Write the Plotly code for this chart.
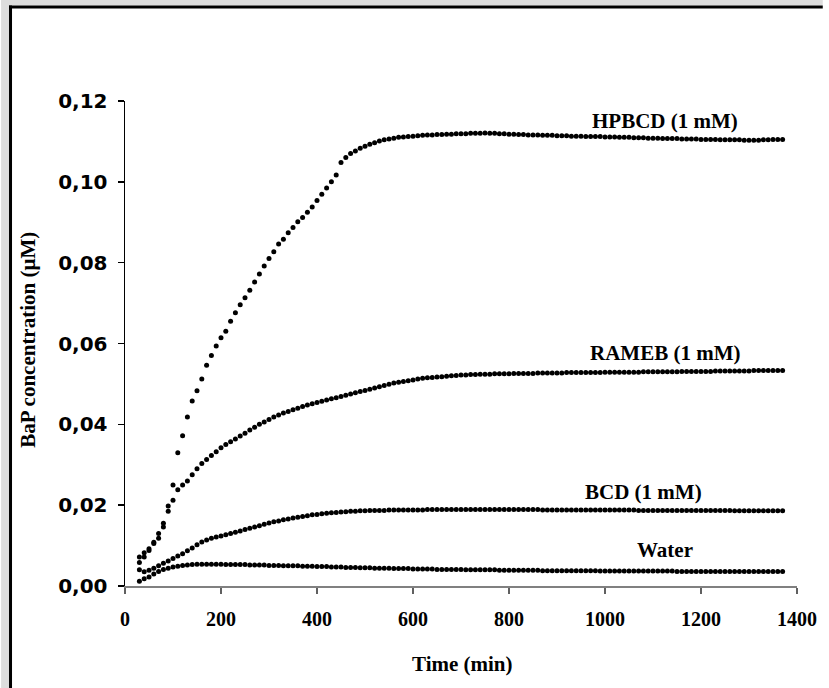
import plotly.graph_objects as go

# Sampling times (min), every 10 min from 30 to 1370
times = list(range(30, 1380, 10))

hpbcd = [
    .0072, .0082, .0092, .0105, .0118, .0146, .0198, .0250, .0330, .0372,
    .0418, .0458, .0483, .0512, .0546, .0570, .0594, .0614, .0630, .0655,
    .0676, .0696, .0713, .0732, .0752, .0772, .0792, .0810, .0827, .0846,
    .0858, .0874, .0887, .0901, .0912, .0925, .0938, .0954, .0969, .0985,
    .1000, .1017, .1048, .1060, .1070, .1076, .1083, .1088, .1093, .1097,
    .1101, .1104, .1106, .1108, .1110, .1111, .1112, .1113, .1114, .1115,
    .1116, .1116, .1117, .1117, .1118, .1118, .1119, .1119, .1119, .1120,
    .1120, .1120, .1121, .1120, .1120, .1119, .1119, .1118, .1118, .1117,
    .1117, .1116, .1116, .1116, .1115, .1115, .1115, .1114, .1114, .1114,
    .1113, .1113, .1113, .1112, .1112, .1112, .1112, .1111, .1111, .1111,
    .1110, .1110, .1110, .1109, .1109, .1109, .1108, .1108, .1108, .1107,
    .1107, .1107, .1107, .1106, .1106, .1106, .1106, .1105, .1105, .1105,
    .1105, .1104, .1104, .1104, .1104, .1104, .1103, .1103, .1103, .1103,
    .1104, .1104, .1105, .1105, .1105,
]

rameb = [
    .0058, .0072, .0088, .0108, .0130, .0155, .0185, .0212, .0238, .0250,
    .0260, .0275, .0290, .0303, .0313, .0323, .0332, .0342, .0350, .0357,
    .0364, .0371, .0378, .0386, .0393, .0400, .0406, .0412, .0418, .0423,
    .0428, .0432, .0436, .0440, .0444, .0448, .0451, .0454, .0457, .0460,
    .0463, .0466, .0469, .0472, .0475, .0478, .0481, .0484, .0487, .0490,
    .0493, .0496, .0499, .0502, .0504, .0506, .0508, .0510, .0512, .0514,
    .0515, .0516, .0517, .0518, .0519, .0520, .0521, .0522, .0522, .0523,
    .0523, .0524, .0524, .0524, .0525, .0525, .0525, .0525, .0526, .0526,
    .0526, .0526, .0526, .0527, .0527, .0527, .0527, .0527, .0527, .0528,
    .0528, .0528, .0528, .0528, .0528, .0528, .0528, .0529, .0529, .0529,
    .0529, .0529, .0529, .0529, .0529, .0530, .0530, .0530, .0530, .0530,
    .0530, .0530, .0530, .0531, .0531, .0531, .0531, .0531, .0531, .0531,
    .0532, .0532, .0532, .0532, .0532, .0532, .0532, .0532, .0533, .0533,
    .0533, .0533, .0533, .0533, .0533,
]

bcd = [
    .0040, .0035, .0039, .0044, .0050, .0056, .0062, .0068, .0074, .0080,
    .0087, .0094, .0102, .0109, .0114, .0118, .0121, .0124, .0127, .0130,
    .0133, .0136, .0140, .0143, .0146, .0149, .0153, .0156, .0159, .0161,
    .0164, .0166, .0168, .0170, .0172, .0174, .0176, .0177, .0179, .0180,
    .0181, .0182, .0183, .0184, .0185, .0185, .0186, .0186, .0187, .0187,
    .0187, .0187, .0188, .0188, .0188, .0188, .0188, .0188, .0188, .0188,
    .0189, .0189, .0189, .0189, .0189, .0189, .0189, .0189, .0189, .0189,
    .0189, .0189, .0189, .0189, .0189, .0189, .0189, .0189, .0189, .0189,
    .0189, .0189, .0189, .0189, .0188, .0188, .0188, .0188, .0188, .0188,
    .0188, .0188, .0188, .0188, .0188, .0188, .0188, .0188, .0188, .0188,
    .0188, .0188, .0188, .0188, .0187, .0187, .0187, .0187, .0187, .0187,
    .0187, .0187, .0187, .0187, .0187, .0187, .0187, .0187, .0187, .0187,
    .0187, .0187, .0187, .0187, .0186, .0186, .0186, .0186, .0186, .0186,
    .0186, .0186, .0186, .0186, .0186,
]

water = [
    .0012, .0018, .0022, .0030, .0036, .0041, .0044, .0047, .0049, .0051,
    .0052, .0053, .0054, .0054, .0054, .0054, .0054, .0054, .0053, .0053,
    .0053, .0053, .0053, .0052, .0052, .0052, .0052, .0051, .0051, .0051,
    .0050, .0050, .0050, .0050, .0049, .0049, .0049, .0048, .0048, .0048,
    .0047, .0047, .0047, .0046, .0046, .0046, .0045, .0045, .0045, .0044,
    .0044, .0044, .0044, .0043, .0043, .0043, .0043, .0042, .0042, .0042,
    .0042, .0042, .0041, .0041, .0041, .0041, .0041, .0041, .0040, .0040,
    .0040, .0040, .0040, .0040, .0040, .0039, .0039, .0039, .0039, .0039,
    .0039, .0039, .0039, .0039, .0038, .0038, .0038, .0038, .0038, .0038,
    .0038, .0038, .0038, .0038, .0038, .0038, .0037, .0037, .0037, .0037,
    .0037, .0037, .0037, .0037, .0037, .0037, .0037, .0037, .0037, .0037,
    .0037, .0037, .0036, .0036, .0036, .0036, .0036, .0036, .0036, .0036,
    .0036, .0036, .0036, .0036, .0036, .0036, .0036, .0036, .0036, .0036,
    .0036, .0036, .0036, .0036, .0036,
]

series_names = ["HPBCD (1 mM)", "RAMEB (1 mM)", "BCD (1 mM)", "Water"]
series_values = [hpbcd, rameb, bcd, water]
label_x = [1125, 1125, 1080, 1125]
label_y = [0.1150, 0.0576, 0.0233, 0.0089]

x_ticks = [0, 200, 400, 600, 800, 1000, 1200, 1400]
y_ticks = [0.00, 0.02, 0.04, 0.06, 0.08, 0.10, 0.12]

SERIF = "Liberation Serif"
SANS = "DejaVu Sans"

# figure / plot-area geometry (pixels)
W, H = 829, 688
L, R, T, B = 125, 26, 101, 102
PW, PH = W - L - R, H - T - B


def px_x(px):
    return (px - L) / PW


def px_y(py):
    return (H - B - py) / PH


fig = go.Figure()
for name, vals in zip(series_names, series_values):
    fig.add_trace(go.Scatter(
        x=times, y=vals, mode="markers", name=name,
        marker=dict(size=5, color="black", line=dict(width=0)),
        showlegend=False, cliponaxis=False, hoverinfo="skip",
    ))

annotations = []
for name, lx, ly in zip(series_names, label_x, label_y):
    annotations.append(dict(
        x=lx, y=ly, xref="x", yref="y", text=name, showarrow=False,
        font=dict(family=SERIF, size=21, color="black", weight="bold"),
        xanchor="center", yanchor="middle",
    ))

annotations.append(dict(
    x=px_x(466), y=px_y(664), xref="paper", yref="paper",
    text="Time (min)", showarrow=False,
    font=dict(family=SERIF, size=21, color="black", weight="bold"),
    xanchor="center", yanchor="middle",
))
annotations.append(dict(
    x=px_x(27), y=px_y(340), xref="paper", yref="paper",
    text="BaP concentration (µM)", showarrow=False, textangle=-90,
    font=dict(family=SERIF, size=21, color="black", weight="bold"),
    xanchor="center", yanchor="middle",
))

GRAY = "#dddddd"
shapes = [
    dict(type="rect", xref="paper", yref="paper", x0=px_x(0), x1=px_x(8),
         y0=px_y(H), y1=px_y(0), fillcolor=GRAY, line=dict(width=0), layer="below"),
    dict(type="rect", xref="paper", yref="paper", x0=px_x(0), x1=px_x(W),
         y0=px_y(5.5), y1=px_y(0), fillcolor=GRAY, line=dict(width=0), layer="below"),
    dict(type="line", xref="paper", yref="paper", x0=px_x(9.5), x1=px_x(9.5),
         y0=px_y(H), y1=px_y(5.5), line=dict(color="black", width=3), layer="below"),
    dict(type="line", xref="paper", yref="paper", x0=px_x(8), x1=px_x(W),
         y0=px_y(7), y1=px_y(7), line=dict(color="black", width=3), layer="below"),
]

fig.update_layout(
    width=W, height=H,
    margin=dict(l=L, r=R, t=T, b=B),
    paper_bgcolor="white",
    plot_bgcolor="white",
    separators=",.",
    annotations=annotations,
    shapes=shapes,
    hovermode=False,
    xaxis=dict(
        range=[0, 1400], tickvals=x_ticks, ticktext=[str(v) for v in x_ticks],
        showline=True, linecolor="#808080", linewidth=2,
        ticks="outside", ticklen=6, tickwidth=1.5, tickcolor="#606060",
        showgrid=False, zeroline=False, ticklabelstandoff=8, fixedrange=True,
        tickfont=dict(family=SERIF, size=20, color="black", weight="bold"),
    ),
    yaxis=dict(
        range=[0, 0.12], tickvals=y_ticks, tickformat=".2f",
        showline=True, linecolor="black", linewidth=1.5,
        ticks="outside", ticklen=6, tickwidth=1.5, tickcolor="black",
        showgrid=False, zeroline=False, ticklabelstandoff=6, fixedrange=True,
        tickfont=dict(family=SANS, size=20, color="black", weight="bold"),
    ),
)

fig.write_html("out.html", config={"displayModeBar": False, "staticPlot": True})
